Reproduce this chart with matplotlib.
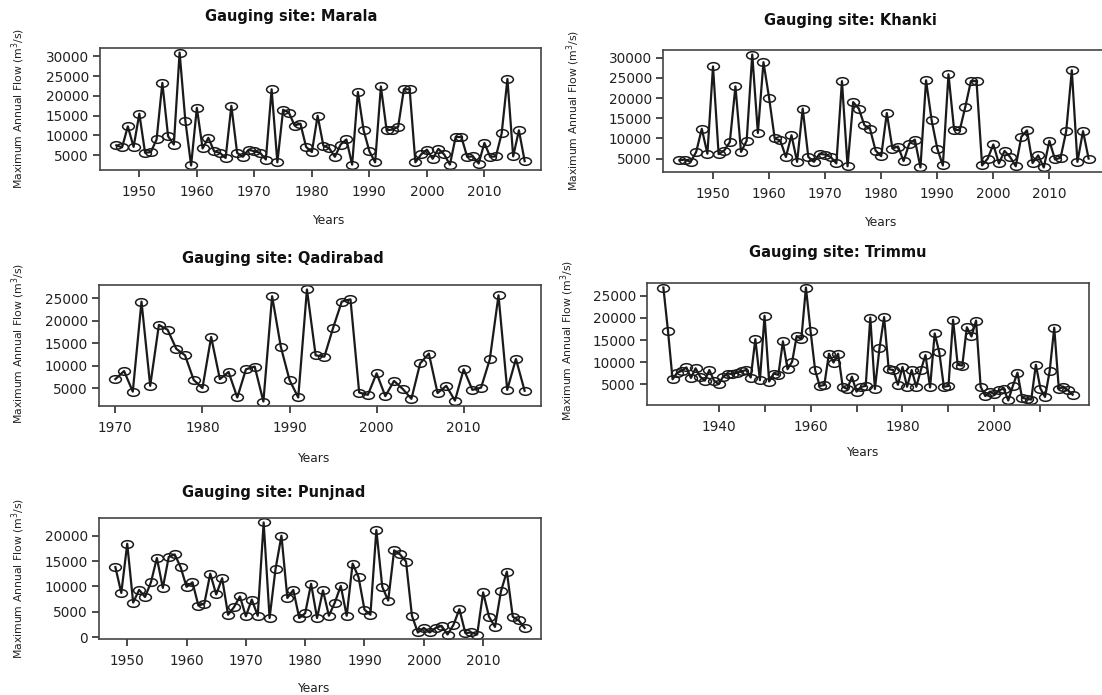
import matplotlib
matplotlib.use("Agg")
import matplotlib.pyplot as plt
from matplotlib.path import Path
from matplotlib.transforms import Affine2D

plt.rcParams['font.family'] = ['DejaVu Sans']

# ---- data (maximum annual flow, m^3/s) ----
marala_years = list(range(1946, 2018))
marala_flow = [7500, 7000, 12300, 7100, 15500, 5600, 5800, 9000, 23300, 9800,
               7700, 31000, 13750, 2400, 17000, 6700, 9400, 6000, 5600, 4300,
               17500, 5600, 4600, 6400, 6000, 5600, 3900, 21700, 3200, 16500,
               15800, 12500, 13000, 7100, 5800, 15000, 7400, 6800, 4600, 7700,
               9000, 2600, 21000, 11300, 6000, 3200, 22400, 11300, 11500, 12200,
               21700, 21700, 3200, 5200, 6400, 4100, 6600, 5200, 2600, 9600,
               9600, 4600, 4700, 2900, 8100, 4600, 4700, 10500, 24300, 4700,
               11300, 3500]

khanki_years = list(range(1944, 2018))
khanki_flow = [4600, 4750, 4200, 6650, 12400, 6200, 27850, 6100, 7000, 9100,
               22900, 6650, 9400, 30800, 11350, 28900, 20100, 10000, 9500, 5400,
               10800, 4200, 17400, 5400, 4200, 6200, 6000, 5400, 3800, 24200,
               3100, 19000, 17400, 13300, 12400, 7000, 5600, 16300, 7500, 8000,
               4400, 8700, 9700, 2800, 24400, 14500, 7500, 3300, 25900, 12200,
               12000, 17800, 24200, 24200, 3300, 5000, 8500, 3800, 6900, 5400,
               3100, 10400, 12000, 3900, 5800, 2800, 9400, 4800, 5200, 11800,
               26900, 4200, 11800, 5000]

qadirabad_years = list(range(1970, 2018))
qadirabad_flow = [7000, 8800, 4200, 24300, 5500, 19100, 18000, 13750, 12300, 6800,
                  5000, 16400, 7000, 8600, 2900, 9200, 9800, 2000, 25500, 14200,
                  6800, 2900, 27000, 12300, 12000, 18400, 24300, 24800, 4000, 3500,
                  8300, 3200, 6600, 4800, 2600, 10500, 12700, 3900, 5500, 2200,
                  9200, 4600, 5100, 11400, 25700, 4600, 11500, 4400]

trimmu_years = list(range(1928, 2018))
trimmu_flow = [26900, 17100, 6100, 7600, 8000, 8800, 6400, 8600, 6700, 5800,
               8200, 5800, 5000, 6700, 7400, 7300, 7600, 7900, 8200, 6500,
               15200, 5900, 20500, 5600, 7400, 7100, 14700, 8400, 10100, 15900,
               15200, 26900, 17100, 8200, 4600, 4800, 11900, 9900, 11900, 4400,
               3900, 6700, 3300, 4400, 4600, 20100, 3900, 13150, 20200, 8400,
               8200, 4850, 8900, 4400, 8200, 4400, 8200, 11600, 4250, 16500,
               12200, 4400, 4600, 19600, 9400, 9200, 17900, 15800, 19400, 4400,
               2300, 3300, 2700, 3600, 4000, 1300, 4600, 7600, 1900, 1700,
               1500, 9400, 4000, 2100, 7900, 17800, 3900, 4400, 3600, 2600]

punjnad_years = list(range(1948, 2018))
punjnad_flow = [13800, 8700, 18400, 6800, 9300, 7900, 10800, 15600, 9700, 15800,
                16300, 13800, 9900, 10800, 6200, 6600, 12500, 8400, 11600, 4400,
                5900, 8000, 4100, 7400, 4200, 22600, 3750, 13400, 20000, 7700,
                9300, 3750, 4700, 10500, 3750, 9200, 4200, 6800, 10100, 4200,
                14500, 11800, 5400, 4400, 21100, 9900, 7200, 17100, 16300, 14900,
                4200, 900, 1800, 900, 1800, 2200, 500, 2400, 5500, 800,
                900, 500, 8800, 4000, 2000, 9000, 12900, 4000, 3300, 1800]

W, H = 1102, 695
INK = '#1a1a1a'
TXT = '#222222'

# R-style open circle, squashed like the reference (which is stretched sideways)
ellipse = Path.unit_circle().transformed(Affine2D().scale(1.55, 1.0))

panels = [
    # name, years, flow, box(l, t, r, b) px, yticks, xticks, xlabels shown,
    # title (x, y), "Years" (x, y), ylabel (x, y)
    ("Marala", marala_years, marala_flow, (100, 48, 541, 170),
     range(5000, 30001, 5000), range(1950, 2011, 10), None,
     (291, 17), (328, 221), (18, 108)),
    ("Khanki", khanki_years, khanki_flow, (663, 50, 1105, 172),
     range(5000, 30001, 5000), range(1950, 2011, 10), None,
     (850, 20), (880, 223), (573, 110)),
    ("Qadirabad", qadirabad_years, qadirabad_flow, (99, 285, 541, 406),
     range(5000, 25001, 5000), range(1970, 2011, 10), None,
     (283, 258), (313, 458), (18, 343)),
    ("Trimmu", trimmu_years, trimmu_flow, (647, 283, 1089, 405),
     range(5000, 25001, 5000), range(1940, 2011, 10), (1940, 1960, 1980, 2000),
     (838, 253), (862, 452), (567, 340)),
    ("Punjnad", punjnad_years, punjnad_flow, (99, 518, 541, 639),
     range(0, 20001, 5000), range(1950, 2011, 10), None,
     (274, 492), (313, 688), (18, 578)),
]

fig = plt.figure(figsize=(W / 100, H / 100), dpi=100)

for (name, yrs, flow, box, yt, xt, xshow, tpos, xlpos, ylpos) in panels:
    l, t, r, b = box
    ax = fig.add_axes([l / W, 1 - b / H, (r - l) / W, (b - t) / H])
    ax.plot(yrs, flow, color=INK, lw=1.6, marker=ellipse, ms=8.5,
            mfc='none', mec=INK, mew=1.1)
    ax.margins(x=0.04, y=0.04)

    ax.set_xticks(list(xt))
    if xshow is None:
        ax.set_xticklabels([str(v) for v in xt])
    else:
        ax.set_xticklabels([str(v) if v in xshow else '' for v in xt])
    ax.set_yticks(list(yt))
    ax.set_yticklabels([str(v) for v in yt])

    ax.tick_params(axis='both', direction='out', length=5, width=1.1,
                   color=INK, labelcolor=TXT, labelsize=9.8, pad=3)
    ax.tick_params(axis='x', pad=6)
    for s in ax.spines.values():
        s.set_color('#444444')
        s.set_linewidth(1.2)

    fig.text(tpos[0] / W, 1 - tpos[1] / H, f"Gauging site: {name}",
             ha='center', va='center', fontsize=10.5, fontweight='bold',
             color='#111111')
    fig.text(xlpos[0] / W, 1 - xlpos[1] / H, "Years", ha='center',
             va='center', fontsize=8.8, color=TXT)
    fig.text(ylpos[0] / W, 1 - ylpos[1] / H,
             r"Maximum Annual Flow (m$^3$/s)", ha='center', va='center',
             rotation=90, fontsize=7.8, color=TXT)

fig.savefig("out.png", dpi=100)
